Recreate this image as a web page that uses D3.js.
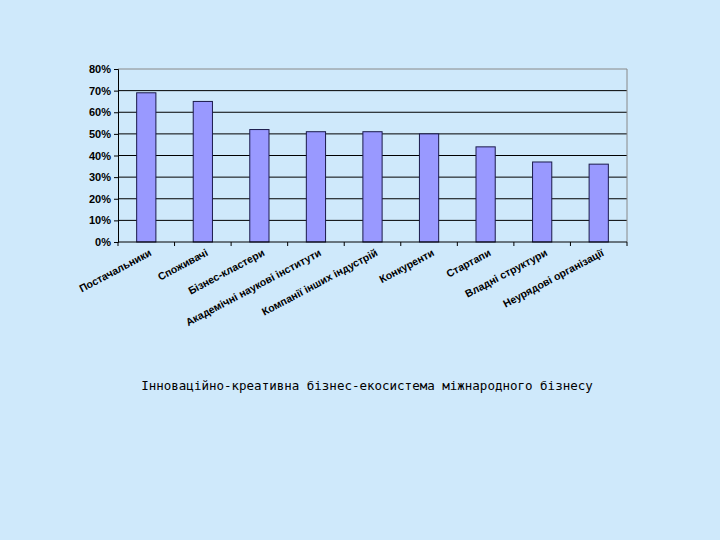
<!DOCTYPE html>
<html lang="en">
<head>
<meta charset="UTF-8">
<script src="https://cdn.jsdelivr.net/npm/d3@7"></script>
<style>
  body { margin: 0; background: #cfe9fb; }
  svg { display: block; }
</style>
</head>
<body>
<svg id="chart" width="720" height="540"></svg>
<script>
const categories = ["Постачальники", "Споживачі", "Бізнес-кластери", "Академічні наукові інститути",
  "Компанії інших індустрій", "Конкуренти", "Стартапи", "Владні структури", "Неурядові організації"];
const values = [69, 65, 52, 51, 51, 50, 44, 37, 36];
const yTicks = [0, 10, 20, 30, 40, 50, 60, 70, 80];
const title = "Інноваційно-креативна бізнес-екосистема міжнародного бізнесу";

const svg = d3.select("#chart");
const plotLeft = 118, plotRight = 627, plotTop = 69, plotBottom = 242;

const x = d3.scaleBand().domain(categories).range([plotLeft, plotRight]).paddingInner(0.66).paddingOuter(0.33);
const y = d3.scaleLinear().domain([0, 80]).range([plotBottom, plotTop]);

// gridlines
svg.append("g").selectAll("line").data(yTicks.slice(1)).enter().append("line")
  .attr("x1", plotLeft).attr("x2", plotRight)
  .attr("y1", d => y(d)).attr("y2", d => y(d))
  .attr("stroke", d => d === 80 ? "#888" : "#000").attr("stroke-width", 1);
svg.append("line").attr("x1", plotRight).attr("x2", plotRight).attr("y1", plotTop).attr("y2", plotBottom)
  .attr("stroke", "#888");

svg.append("g").selectAll("rect").data(values).enter().append("rect")
  .attr("x", (d, i) => x(categories[i]))
  .attr("width", x.bandwidth())
  .attr("y", d => y(d))
  .attr("height", d => plotBottom - y(d))
  .attr("fill", "#9999ff").attr("stroke", "#1a1a4a").attr("stroke-width", 1);

// y axis
const ya = svg.append("g").attr("transform", `translate(${plotLeft},0)`)
  .call(d3.axisLeft(y).tickValues(yTicks).tickSize(4).tickFormat(d => d + "%"));
ya.selectAll("text").attr("font-family", "Liberation Sans, Arial").attr("font-weight", "bold")
  .attr("font-size", 11).attr("fill", "#000");
ya.selectAll("line, path").attr("stroke", "#000");

// x axis
const step = x.step();
svg.append("line").attr("x1", plotLeft).attr("x2", plotRight).attr("y1", plotBottom).attr("y2", plotBottom).attr("stroke", "#000");
svg.append("g").selectAll("line").data(d3.range(categories.length + 1)).enter().append("line")
  .attr("x1", i => plotLeft + i * step).attr("x2", i => plotLeft + i * step)
  .attr("y1", plotBottom).attr("y2", plotBottom + 4).attr("stroke", "#000");

svg.append("g").selectAll("text").data(categories).enter().append("text")
  .attr("transform", d => `translate(${x(d) + x.bandwidth() / 2 + 6},${plotBottom + 13}) rotate(-28)`)
  .attr("text-anchor", "end")
  .attr("font-family", "Liberation Sans, Arial").attr("font-weight", "bold").attr("font-size", 10.5)
  .attr("fill", "#000")
  .text(d => d);

svg.append("text").attr("x", 367).attr("y", 390).attr("text-anchor", "middle")
  .attr("font-family", "DejaVu Sans Mono, monospace").attr("font-size", 12.5)
  .attr("fill", "#000")
  .text(title);
</script>
</body>
</html>
